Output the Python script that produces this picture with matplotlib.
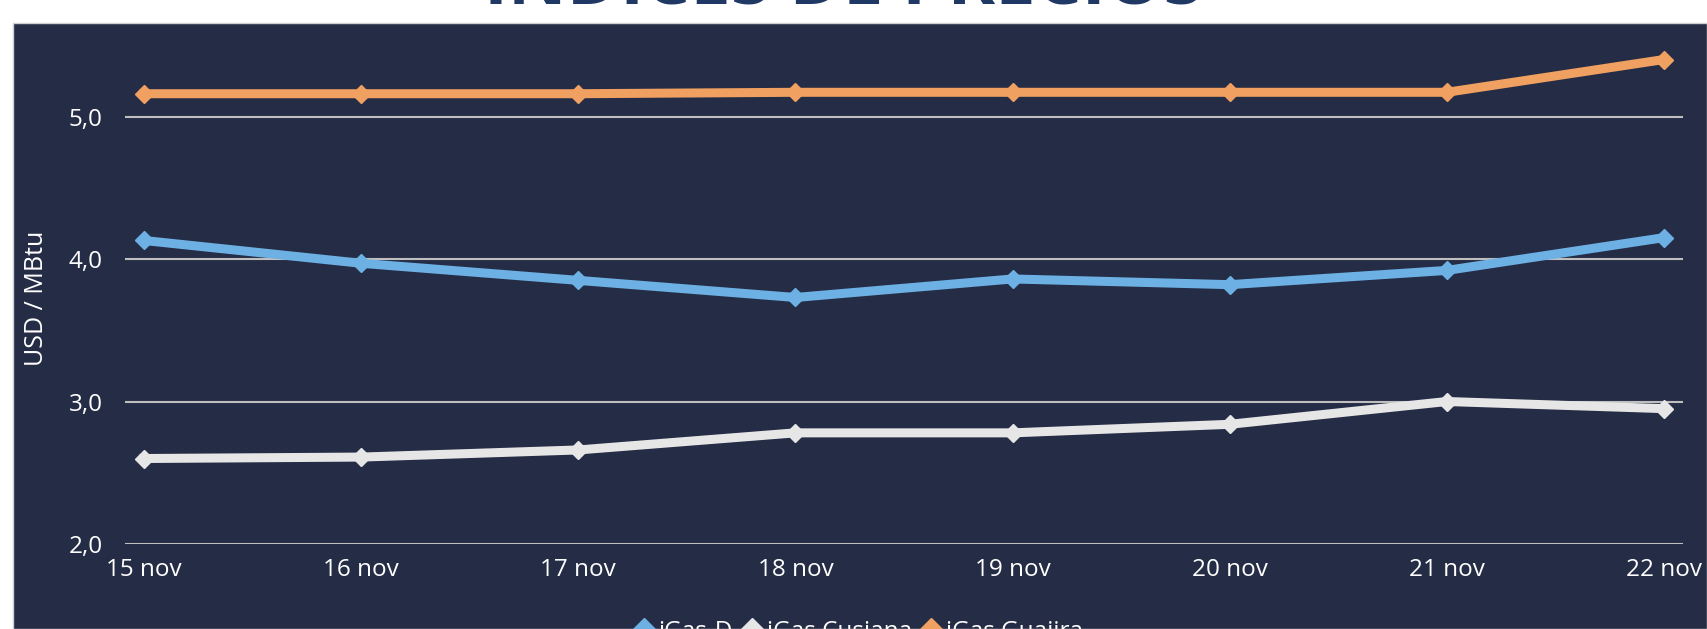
import matplotlib.pyplot as plt
from matplotlib.patches import Rectangle
from matplotlib.lines import Line2D

# data (USD / MBtu)
dates = ["15 nov", "16 nov", "17 nov", "18 nov", "19 nov", "20 nov", "21 nov", "22 nov"]
igas_d = [4.13, 3.97, 3.85, 3.73, 3.86, 3.82, 3.92, 4.15]
igas_cusiana = [2.60, 2.61, 2.66, 2.78, 2.78, 2.84, 3.00, 2.95]
igas_guajira = [5.16, 5.16, 5.16, 5.17, 5.17, 5.17, 5.17, 5.40]
series_names = ["iGas-D", "iGas Cusiana", "iGas Guajira"]

bg = "#252C45"
colors = ["#6CB0E4", "#E6E6E6", "#F0A060"]
plt.rcParams['font.family'] = ['Open Sans', 'DejaVu Sans']

fig = plt.figure(figsize=(17.07, 6.29), dpi=100, facecolor="white")

# dark panel behind the chart
fig.patches.append(Rectangle((13 / 1707, 0), 1 - 13 / 1707, 1 - 23 / 629,
                             transform=fig.transFigure, facecolor=bg,
                             edgecolor="#D0D0D0", linewidth=1, zorder=-5))

# title, mostly cut off by the top edge
fig.text(0.494, 1 - 3 / 629, "ÍNDICES DE PRECIOS", ha="center", va="baseline",
         fontsize=52, fontweight="bold", color="#203864")

ax = fig.add_axes([125 / 1707, 1 - 544 / 629, (1683 - 125) / 1707, (544 - 52.4) / 629])
ax.set_facecolor("none")
ax.set_zorder(2)

x = list(range(len(dates)))
for vals, c in zip([igas_d, igas_cusiana, igas_guajira], colors):
    ax.plot(x, vals, color=c, linewidth=6.5, marker="D", markersize=9,
            solid_joinstyle="round", clip_on=False, zorder=3)

ax.set_xlim(-0.0876, 7.0876)
ax.set_ylim(2, 5.45)
ax.set_yticks([2, 3, 4, 5])
ax.set_yticklabels(["2,0", "3,0", "4,0", "5,0"])
ax.set_xticks(x)
ax.set_xticklabels(dates)
ax.grid(axis="y", color="#BFBFBF", linewidth=1.5, zorder=1)
ax.set_axisbelow(True)
for s in ax.spines.values():
    s.set_visible(False)
ax.tick_params(axis="both", length=0, colors="white", labelsize=17.5)
ax.tick_params(axis="y", pad=16)
ax.tick_params(axis="x", pad=10)

ax.set_ylabel("USD / MBtu", color="white", fontsize=18)
ax.yaxis.set_label_coords(-0.049, 0.5)

handles = [Line2D([], [], color=c, marker="D", markersize=11, linestyle="none")
           for c in colors]
fig.legend(handles, series_names, loc="upper center", bbox_to_anchor=(0.503, 1 - 598 / 629),
           ncol=3, frameon=False, fontsize=17.5, labelcolor="white",
           handlelength=0.8, handletextpad=0.2, columnspacing=0.4)

fig.savefig("out.png", dpi=100, facecolor="white")
